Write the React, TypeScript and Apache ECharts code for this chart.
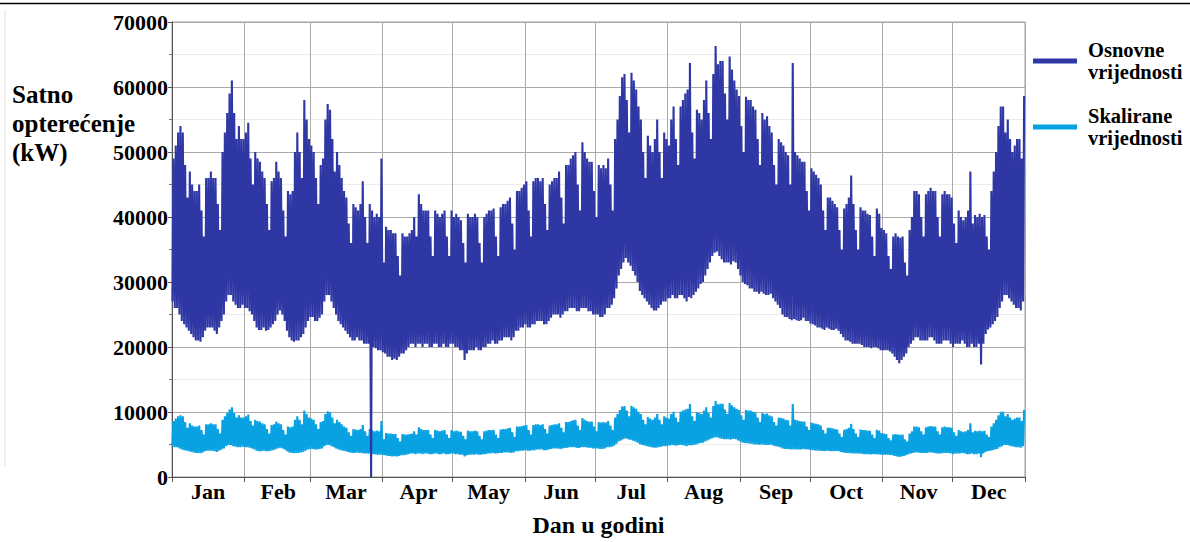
import React, { useEffect, useRef } from "react";
import * as echarts from "echarts";

// Daily peak load, thousands of kW, one line per week
const DAY_MAX_K = [
  49, 51, 53, 54, 53, 48, 43,
  47, 45, 44, 44, 45, 41, 37,
  46, 46, 47, 46, 46, 42, 38,
  50, 53, 56, 59, 61, 56, 52,
  54, 52, 52, 53, 54.5, 49, 45,
  50, 49, 48.5, 47, 46, 42, 38,
  45.5, 46, 48.5, 47, 46, 41, 37,
  44, 43.5, 44, 50, 53, 50, 46,
  58, 55, 52, 51, 50, 46, 42,
  48, 49, 55, 57.4, 56.5, 52, 47,
  50, 48, 46, 44, 43, 39, 36,
  42, 41.5, 41, 42, 45.5, 40, 36,
  42, 41, 40, 40.5, 40, 49, 33,
  38.5, 38, 38, 37.5, 37.5, 34, 31,
  37.5, 37, 37, 37.5, 38, 40, 37,
  43.5, 42, 41, 41, 41, 37, 34,
  41, 40.5, 40, 40.5, 41, 37, 34,
  41, 40, 40.5, 40, 39.5, 36, 33,
  40.5, 40, 40, 40.5, 40, 36, 33,
  40, 40.5, 41, 41, 41.3, 37, 34,
  41.5, 42, 42, 42.5, 43, 39, 35,
  44, 44, 44.5, 45, 45.5, 41, 37,
  45.5, 46, 46, 45.5, 46, 42, 38,
  45, 45.5, 46, 46, 47, 43, 39,
  48, 48, 49, 49.5, 50, 45, 41,
  51.5, 50, 49, 48.5, 48.5, 44, 40,
  48, 47.5, 48, 47.5, 49, 45, 41,
  52, 55, 58.6, 61.5, 62, 58, 53,
  62.2, 61, 59.6, 57, 55, 50, 46,
  52.5, 51, 50, 52, 55, 50, 46,
  53, 52, 51, 55, 57, 52, 48,
  57, 58, 59, 59.6, 63.7, 53, 49,
  56.5, 56, 55, 58, 61, 56, 52,
  62, 66.3, 63.5, 64, 64, 59, 55,
  64.7, 62.7, 61, 59.6, 58.6, 54, 50,
  58.5, 58, 58, 57, 56.5, 52, 48,
  56, 55, 55.5, 54, 53, 48, 45,
  52, 51.5, 51, 50, 49.5, 45, 63.7,
  50, 49.5, 49, 48.5, 48.5, 44, 41,
  47.5, 47, 46.5, 46, 45, 41, 38,
  43, 43, 42.5, 42, 41.5, 38, 35,
  41.3, 42, 43, 46.4, 42, 38, 35,
  41.5, 41, 41, 40.5, 40.3, 37, 34,
  41.3, 40.5, 38.3, 38, 37.5, 34, 32,
  37, 37.5, 37, 36.8, 37, 33, 31,
  38, 40, 44, 44, 43.5, 40, 37,
  43.5, 44, 44.5, 44, 44, 40, 37,
  43.5, 44, 43.5, 43.5, 43, 39, 36,
  41, 40, 39.5, 40, 41, 47, 39,
  40.3, 40, 40.5, 40, 40.3, 37, 35,
  44, 47, 50, 54, 57, 57, 53,
  55, 52, 50, 51, 52, 52, 49,
  58.6,
];

// Daily minimum load, thousands of kW
const DAY_MIN_K = [
  27, 26, 26, 25, 24, 23.5, 23,
  22.5, 22, 21.5, 21, 21, 20.8, 21.5,
  22.5, 23, 23, 23, 22.5, 22, 23,
  24, 25, 27, 28, 28, 27, 26.5,
  26, 26, 26.5, 26, 26, 25.5, 25,
  24, 23, 22.6, 22.6, 23, 22.5, 22.6,
  23, 23.5, 24, 25, 25.6, 25, 24,
  22.5, 21.5, 21, 20.8, 21, 21, 21.5,
  22, 23, 24, 24.6, 24.6, 24, 24,
  24.5, 25, 27, 28, 28, 27, 26,
  25, 24, 23.5, 23, 22.5, 22, 21.5,
  21, 21, 21.5, 21, 21, 20.5, 20.5,
  20.5, 20, 20, 19.8, 19.5, 19.5, 19.2,
  19, 18.5, 18.5, 18, 18.2, 18, 18.5,
  19, 19, 19.5, 20, 20.5, 20.5, 20,
  20.5, 20.5, 20, 20.5, 20.5, 20, 20,
  20.5, 20.5, 20, 20, 20.5, 20, 20,
  20.5, 20.5, 20, 20, 19.5, 19.5, 18,
  19, 19.5, 19.5, 19.5, 20, 19.5, 19.5,
  20, 20, 20.5, 20.5, 21, 20.5, 20.5,
  21, 21, 21.5, 21.5, 21.5, 21, 21.5,
  22.5, 22.5, 23, 23, 23.5, 23, 23,
  23.5, 23.5, 24, 24, 24, 23.5, 23.5,
  24, 24.5, 25, 25, 25, 24.5, 25,
  25.5, 25.5, 26, 26, 26, 25.5, 25.5,
  26, 26, 26, 25.5, 25.5, 25, 25,
  25, 24.6, 24.6, 25, 26, 26, 26.5,
  27.5, 29, 31, 32, 33, 33.7, 33,
  32.5, 31.7, 31, 30, 28.6, 28, 27.5,
  27, 26.5, 26, 25.6, 25.6, 26, 26.5,
  27, 27, 27.5, 27.5, 28, 27.5, 27.5,
  28, 28, 27.5, 27, 27.7, 27.5, 28,
  28.5, 29, 29.7, 30, 31, 32, 33,
  34, 34.5, 34.7, 34, 33.5, 33, 33,
  33, 32.7, 33.2, 33, 32, 31, 30,
  29.7, 29.5, 29, 29, 28.5, 28.5, 28.2,
  28.5, 28.2, 28, 28, 28.2, 27.5, 27,
  26.5, 26, 25, 24.6, 24.6, 24.3, 24.1,
  24.3, 24.1, 24, 24.1, 24.5, 24, 24,
  23.6, 23.5, 23.3, 23, 23, 22.8, 22.6,
  23, 22.8, 22.6, 22.6, 22.8, 22.5, 22,
  21.5, 21, 21, 20.8, 20.5, 20.5, 20.5,
  20.5, 20.3, 20, 20, 20, 19.8, 20,
  20, 19.8, 19.5, 19.5, 19.5, 19.5, 19.3,
  19, 18.5, 18, 17.5, 18, 18.5, 19,
  20, 20.5, 21, 21.5, 21.5, 21, 21,
  21, 21, 21.5, 21.5, 21, 20.5, 20.5,
  20.5, 21, 21, 21, 20.5, 20, 20.5,
  20.5, 20.5, 21, 20.5, 20, 20, 20.5,
  20, 20, 20.5, 17.3, 20.5, 22, 22.7,
  23, 23.5, 24, 24.6, 26, 27, 28,
  28, 27.5, 27, 26.5, 26, 26, 25.6,
  27,
];

// A one-hour dropout to 0 kW in the base series only
const DROPOUT_DAY = 85;
const DROPOUT_VALUE = 0;
// The scaled series is the base series times this factor
const SCALE_FACTOR = 0.176;

const MONTHS = ["Jan", "Feb", "Mar", "Apr", "May", "Jun", "Jul", "Aug", "Sep", "Oct", "Nov", "Dec"];
const MONTH_DAYS = [31, 28, 31, 30, 31, 30, 31, 31, 30, 31, 30, 31];
const Y_MIN = 0;
const Y_MAX = 70000;
const Y_STEP = 10000;

const SERIES_BASE = "Osnovne\nvrijednosti";
const SERIES_SCALED = "Skalirane\nvrijednosti";
const COLOR_BASE = "#2e37a4";
const COLOR_SCALED = "#08a2e2";
const FONT = "Liberation Serif, serif";

const MONTH_STARTS: number[] = [];
const MONTH_MIDS: number[] = [];
{
  let s = 0;
  MONTH_DAYS.forEach((n) => {
    MONTH_STARTS.push(s);
    MONTH_MIDS.push(s + Math.floor(n / 2));
    s += n;
  });
}
const DAYS = DAY_MAX_K.length;
const DAY_CATEGORIES = Array.from({ length: DAYS }, (_, i) => String(i + 1));

function monthOf(dayIndex: number) {
  let m = 0;
  for (let i = 0; i < MONTH_STARTS.length; i++) if (MONTH_STARTS[i] <= dayIndex) m = i;
  return MONTHS[m];
}

function buildSeries(factor: number, withDropout: boolean) {
  const pts: number[][] = [];
  for (let d = 0; d < DAYS; d++) {
    const lo = withDropout && d === DROPOUT_DAY ? DROPOUT_VALUE : DAY_MIN_K[d] * 1000 * factor;
    pts.push([d + 0.2, lo]);
    pts.push([d + 0.62, DAY_MAX_K[d] * 1000 * factor]);
  }
  return pts;
}

export default function App() {
  const ref = useRef<HTMLDivElement>(null);
  useEffect(() => {
    if (!ref.current) return;
    const chart = echarts.init(ref.current, null, { renderer: "svg" });
    const baseData = buildSeries(1, true);
    const scaledData = buildSeries(SCALE_FACTOR, false);
    const labelStyle = { fontFamily: FONT, fontWeight: "bold" as const, color: "#000" };
    chart.setOption({
      animation: false,
      backgroundColor: "#fff",
      title: {
        text: "Satno\nopterećenje\n(kW)",
        left: 12,
        top: 80,
        padding: 0,
        textStyle: { ...labelStyle, fontSize: 25, lineHeight: 29 },
      },
      legend: {
        orient: "vertical",
        left: 1033,
        top: 28,
        padding: 0,
        itemGap: 0,
        itemWidth: 44,
        itemHeight: 5,
        icon: "rect",
        data: [SERIES_BASE, SERIES_SCALED],
        textStyle: { ...labelStyle, fontSize: 20.5, lineHeight: 22, padding: [22, 0, 0, 6] },
      },
      grid: { left: 172, right: 165, top: 22, bottom: 60, show: true, borderColor: "#9a9a9a", borderWidth: 1 },
      xAxis: [
        { type: "value", min: 0, max: DAYS, show: false },
        {
          type: "category",
          data: DAY_CATEGORIES,
          min: 0,
          max: DAYS - 1,
          position: "bottom",
          boundaryGap: true,
          axisLine: { show: true, lineStyle: { color: "#555", width: 1 } },
          axisTick: {
            show: true,
            length: 5,
            interval: (i: number) => MONTH_STARTS.includes(i),
            lineStyle: { color: "#555" },
          },
          axisLabel: {
            interval: (i: number) => MONTH_MIDS.includes(i),
            formatter: (v: string) => monthOf(Number(v) - 1),
            margin: 3,
            fontSize: 22,
            ...labelStyle,
          },
          splitLine: {
            show: true,
            interval: (i: number) => MONTH_STARTS.includes(i),
            lineStyle: { color: "#aaaaaa", width: 1 },
          },
          name: "Dan u godini",
          nameLocation: "middle",
          nameGap: 36,
          nameTextStyle: { ...labelStyle, fontSize: 24 },
        },
      ],
      yAxis: {
        type: "value",
        min: Y_MIN,
        max: Y_MAX,
        interval: Y_STEP,
        axisLine: { show: true, lineStyle: { color: "#555" } },
        axisTick: { show: true, length: 4, lineStyle: { color: "#555" } },
        minorTick: { show: true, splitNumber: 2, length: 3, lineStyle: { color: "#777" } },
        axisLabel: { margin: 4, fontSize: 22, formatter: (v: number) => String(v), ...labelStyle },
        splitLine: { show: true, lineStyle: { color: "#aaaaaa", width: 1 } },
        minorSplitLine: { show: true, lineStyle: { color: "#ececec", width: 1 } },
      },
      graphic: [
        { type: "line", shape: { x1: 0, y1: 3.5, x2: 1190, y2: 3.5 }, style: { stroke: "#000", lineWidth: 1.5 } },
        { type: "line", shape: { x1: 5, y1: 10, x2: 5, y2: 466 }, style: { stroke: "#e2e2e2", lineWidth: 1 } },
      ],
      series: [
        {
          name: SERIES_SCALED,
          type: "line",
          xAxisIndex: 0,
          data: scaledData,
          showSymbol: false,
          symbol: "none",
          lineStyle: { width: 2.1, color: COLOR_SCALED },
          itemStyle: { color: COLOR_SCALED },
          z: 2,
        },
        {
          name: SERIES_BASE,
          type: "line",
          xAxisIndex: 0,
          data: baseData,
          showSymbol: false,
          symbol: "none",
          lineStyle: { width: 2.1, color: COLOR_BASE },
          itemStyle: { color: COLOR_BASE },
          z: 3,
        },
      ],
    });
    return () => chart.dispose();
  }, []);
  return <div ref={ref} style={{ position: "fixed", left: 0, top: 0, width: 1190, height: 542 }} />;
}
